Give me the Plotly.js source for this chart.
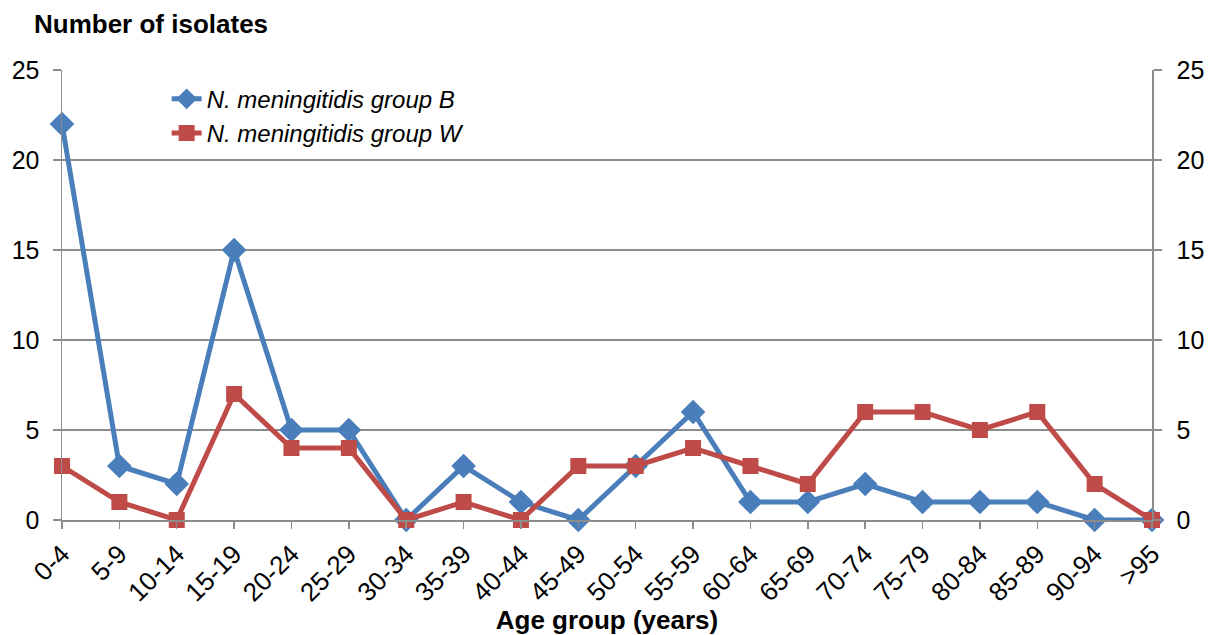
<!DOCTYPE html>
<html>
<head>
<meta charset="utf-8">
<script src="https://cdn.plot.ly/plotly-3.0.1.min.js"></script>
<style>
  html, body { margin: 0; padding: 0; background: #fff; }
  #chart { width: 1215px; height: 635px; }
</style>
</head>
<body>
<div id="chart"></div>
<script>
// Age groups (years)
const ageGroups = ['0-4', '5-9', '10-14', '15-19', '20-24', '25-29', '30-34', '35-39',
  '40-44', '45-49', '50-54', '55-59', '60-64', '65-69', '70-74', '75-79',
  '80-84', '85-89', '90-94', '>95'];

// Number of isolates per age group
const groupB = [22, 3, 2, 15, 5, 5, 0, 3, 1, 0, 3, 6, 1, 1, 2, 1, 1, 1, 0, 0];
const groupW = [3, 1, 0, 7, 4, 4, 0, 1, 0, 3, 3, 4, 3, 2, 6, 6, 5, 6, 2, 0];

const yTicks = [0, 5, 10, 15, 20, 25];

const fontFamily = '"Liberation Sans", Arial, sans-serif';
const blue = '#4A7EBB';
const red = '#BE4B48';
const axisGray = '#8C8C8C';

const traces = [
  {
    x: ageGroups, y: groupB, type: 'scatter', mode: 'lines+markers',
    name: '<i>N. meningitidis group B</i>',
    line: { color: blue, width: 5 },
    marker: { symbol: 'diamond', size: 19, color: blue },
    cliponaxis: false
  },
  {
    x: ageGroups, y: groupW, type: 'scatter', mode: 'lines+markers',
    name: '<i>N. meningitidis group W</i>',
    line: { color: red, width: 5 },
    marker: { symbol: 'square', size: 16, color: red },
    cliponaxis: false
  },
  // attaches the mirrored right-hand value axis (drawn transparent)
  {
    x: ageGroups, y: groupW, type: 'scatter', mode: 'lines', yaxis: 'y2',
    line: { color: 'rgba(0,0,0,0)', width: 0 }, showlegend: false, hoverinfo: 'skip'
  }
];

const layout = {
  width: 1215, height: 635,
  margin: { l: 62, r: 63, t: 70, b: 115 },
  paper_bgcolor: '#fff', plot_bgcolor: '#fff',
  font: { family: fontFamily, size: 24, color: '#000' },
  showlegend: true,
  legend: {
    x: 0.096, y: 0.985, xanchor: 'left', yanchor: 'top',
    bgcolor: 'rgba(0,0,0,0)', font: { size: 24 },
    tracegroupgap: 0, itemwidth: 30
  },
  xaxis: {
    type: 'category', range: [0, ageGroups.length - 1],
    tickangle: -45, ticks: 'outside', ticklen: 7, tickcolor: axisGray, tickwidth: 1.5,
    showline: true, linecolor: axisGray, linewidth: 1.5,
    showgrid: false, zeroline: false, tickfont: { size: 26 },
    title: { text: '<b>Age group (years)</b>', font: { size: 26 }, standoff: 0 },
    fixedrange: true
  },
  yaxis: {
    range: [0, 25], tickvals: yTicks, ticks: 'outside', ticklen: 8,
    tickcolor: axisGray, tickwidth: 1.5,
    showline: true, linecolor: axisGray, linewidth: 1.5,
    showgrid: true, gridcolor: axisGray, gridwidth: 1.5,
    zeroline: false, tickfont: { size: 25 }, ticklabelstandoff: 8,
    fixedrange: true
  },
  yaxis2: {
    range: [0, 25], tickvals: yTicks, ticks: 'outside', ticklen: 8,
    tickcolor: axisGray, tickwidth: 1.5,
    overlaying: 'y', side: 'right',
    showline: true, linecolor: axisGray, linewidth: 1.5,
    showgrid: false, zeroline: false, tickfont: { size: 25 }, ticklabelstandoff: 10,
    fixedrange: true
  },
  annotations: [{
    text: '<b>Number of isolates</b>', xref: 'paper', yref: 'paper',
    x: -0.0275, y: 1.102, xanchor: 'left', yanchor: 'middle',
    showarrow: false, font: { size: 26 }
  }]
};

Plotly.newPlot('chart', traces, layout, { displayModeBar: false, staticPlot: true });
</script>
</body>
</html>
